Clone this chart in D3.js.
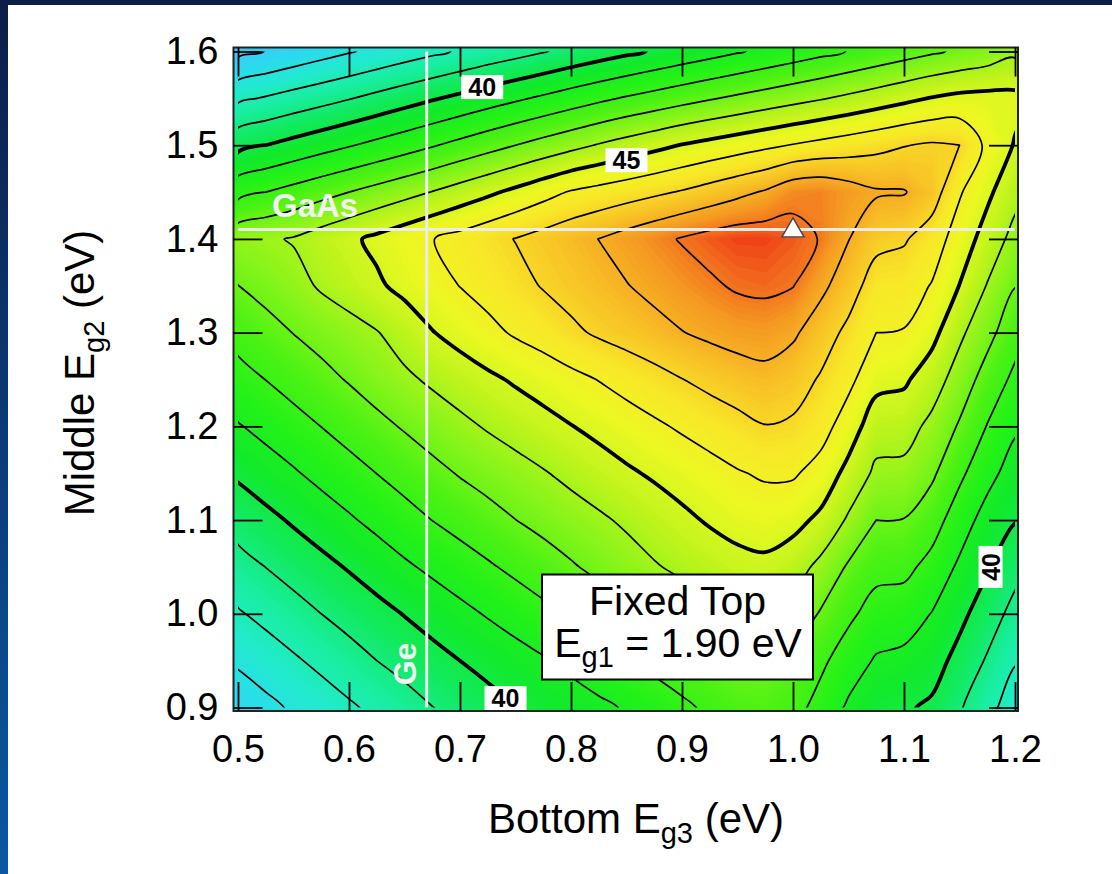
<!DOCTYPE html>
<html>
<head>
<meta charset="utf-8">
<script src="https://cdn.jsdelivr.net/npm/d3@7"></script>
<style>
  html, body { margin: 0; padding: 0; background: #fff; }
  svg { display: block; }
  text { font-family: "Liberation Sans", Arial, Helvetica, sans-serif; }
</style>
</head>
<body>
<svg id="chart" width="1112" height="874"></svg>
<script>
// ---- Sample positions of the efficiency map ----
// bottom-cell band gap Eg3 (columns) and middle-cell band gap Eg2 (rows), eV
const eg3Grid = [0.500, 0.525, 0.550, 0.575, 0.600, 0.625, 0.650, 0.675, 0.700, 0.725,
                 0.750, 0.775, 0.800, 0.825, 0.850, 0.875, 0.900, 0.925, 0.950, 0.975,
                 1.000, 1.025, 1.050, 1.075, 1.100, 1.125, 1.150, 1.175, 1.200];
const eg2Grid = [0.90, 0.95, 1.00, 1.05, 1.10, 1.15, 1.20, 1.25, 1.30, 1.35, 1.40, 1.45, 1.50, 1.55, 1.60];

// ---- Triple-junction efficiency (%) for a 1.90 eV top cell, one row per Eg2 ----
const eff090 = [36.40, 36.75, 37.13, 37.49, 37.86, 38.23, 38.60, 38.98, 39.32, 39.66, 40.00, 40.27, 40.53, 40.80, 41.09, 41.45, 41.81, 42.18, 42.50, 42.58, 42.35, 41.65, 40.85, 40.22, 40.12, 39.85, 39.10, 38.30, 37.50];
const eff095 = [37.14, 37.51, 37.87, 38.24, 38.62, 39.00, 39.33, 39.67, 40.00, 40.30, 40.61, 40.91, 41.25, 41.61, 41.96, 42.28, 42.59, 42.85, 43.08, 43.12, 42.70, 42.20, 41.50, 40.90, 40.75, 40.42, 39.68, 38.90, 38.07];
const eff100 = [37.90, 38.26, 38.63, 39.00, 39.35, 39.69, 40.04, 40.39, 40.74, 41.08, 41.41, 41.75, 42.08, 42.41, 42.75, 43.08, 43.41, 43.74, 44.06, 44.18, 43.69, 42.91, 42.20, 41.60, 41.50, 40.97, 40.26, 39.48, 38.69];
const eff105 = [38.64, 39.01, 39.37, 39.72, 40.08, 40.46, 40.85, 41.20, 41.54, 41.88, 42.22, 42.56, 42.90, 43.24, 43.59, 43.92, 44.20, 44.45, 44.68, 44.78, 44.45, 43.74, 42.88, 42.30, 42.25, 41.70, 40.83, 40.10, 39.31];
const eff110 = [39.39, 39.74, 40.12, 40.50, 40.88, 41.26, 41.64, 42.01, 42.34, 42.66, 42.99, 43.28, 43.57, 43.85, 44.15, 44.47, 44.80, 45.10, 45.35, 45.48, 45.30, 44.79, 43.86, 43.00, 42.97, 42.42, 41.50, 40.60, 40.05];
const eff115 = [40.15, 40.54, 40.90, 41.28, 41.64, 42.01, 42.37, 42.73, 43.07, 43.36, 43.64, 43.93, 44.24, 44.55, 44.86, 45.13, 45.39, 45.65, 45.93, 46.12, 46.12, 45.62, 44.71, 43.80, 43.75, 43.17, 42.20, 41.33, 40.54];
const eff120 = [40.93, 41.29, 41.65, 42.01, 42.38, 42.74, 43.09, 43.43, 43.77, 44.09, 44.38, 44.67, 44.97, 45.26, 45.55, 45.84, 46.13, 46.42, 46.70, 46.97, 46.85, 46.40, 45.50, 44.45, 44.40, 43.76, 42.90, 41.96, 41.15];
const eff125 = [41.65, 42.01, 42.37, 42.72, 43.07, 43.44, 43.81, 44.16, 44.48, 44.81, 45.12, 45.42, 45.73, 46.03, 46.35, 46.66, 46.98, 47.27, 47.52, 47.70, 47.45, 46.90, 46.25, 45.30, 45.15, 44.48, 43.55, 42.60, 41.78];
const eff130 = [42.34, 42.68, 43.02, 43.33, 43.64, 43.95, 44.44, 44.96, 45.35, 45.73, 46.12, 46.43, 46.80, 47.14, 47.40, 47.67, 47.97, 48.20, 48.38, 48.45, 48.15, 47.49, 46.76, 46.00, 45.95, 45.30, 44.20, 43.30, 42.38];
const eff135 = [42.99, 43.30, 43.65, 44.12, 44.45, 44.86, 45.25, 45.63, 46.02, 46.36, 46.70, 47.06, 47.37, 47.68, 47.96, 48.27, 48.56, 48.85, 49.12, 49.20, 49.03, 48.23, 47.47, 46.50, 46.45, 45.95, 44.98, 43.95, 43.03];
const eff140 = [43.68, 43.86, 44.07, 44.45, 44.82, 45.20, 45.58, 45.97, 46.32, 46.68, 47.03, 47.36, 47.68, 48.01, 48.37, 48.72, 49.07, 49.35, 49.55, 49.55, 49.35, 48.95, 48.03, 47.30, 47.10, 46.50, 45.55, 44.60, 43.68];
const eff145 = [41.68, 42.00, 42.33, 42.67, 43.00, 43.34, 43.68, 44.03, 44.42, 44.81, 45.22, 45.65, 46.08, 46.33, 46.57, 46.82, 47.08, 47.40, 47.75, 48.10, 48.70, 48.80, 48.45, 48.10, 48.06, 47.50, 46.10, 45.20, 44.30];
const eff150 = [39.71, 40.00, 40.31, 40.62, 40.93, 41.25, 41.58, 41.92, 42.28, 42.64, 43.00, 43.36, 43.71, 44.07, 44.40, 44.72, 45.04, 45.30, 45.55, 45.80, 46.05, 46.28, 46.50, 46.73, 46.96, 47.12, 47.00, 45.77, 44.93];
const eff155 = [37.81, 38.09, 38.38, 38.66, 38.95, 39.27, 39.59, 39.91, 40.22, 40.54, 40.85, 41.16, 41.48, 41.80, 42.10, 42.37, 42.65, 42.92, 43.18, 43.43, 43.68, 43.93, 44.20, 44.48, 44.77, 45.05, 45.25, 45.30, 45.25];
const eff160 = [35.74, 36.02, 36.33, 36.63, 36.93, 37.22, 37.52, 37.81, 38.10, 38.39, 38.66, 38.95, 39.25, 39.53, 39.81, 40.09, 40.37, 40.64, 40.92, 41.20, 41.47, 41.75, 42.03, 42.31, 42.59, 42.87, 43.14, 43.42, 43.80];
const effRows = [eff090, eff095, eff100, eff105, eff110, eff115, eff120, eff125, eff130, eff135, eff140, eff145, eff150, eff155, eff160];

// ---- Iso-efficiency lines ----
const contourLevels = [36, 37, 38, 39, 40, 41, 42, 43, 44, 45, 46, 47, 48, 49];
const boldLevels = [40, 45];

// ---- Axis ticks ----
const xTicks = [0.5, 0.6, 0.7, 0.8, 0.9, 1.0, 1.1, 1.2];
const yTicks = [0.9, 1.0, 1.1, 1.2, 1.3, 1.4, 1.5, 1.6];

// ---- Reference materials and optimum ----
const gaasEg = 1.41;      // middle-cell reference (GaAs)
const geEg = 0.67;        // bottom-cell reference (Ge)
const optimum = { eg3: 1.00, eg2: 1.41 };
const topEg = "1.90";

// ---- Inline contour labels ----
const contourLabels = [
  { level: 40, eg3: 0.720, eg2: 1.562, angle: 0 },
  { level: 45, eg3: 0.850, eg2: 1.484, angle: 0 },
  { level: 40, eg3: 0.741, eg2: 0.910, angle: 0 },
  { level: 40, eg3: 1.178, eg2: 1.050, angle: -90 }
];

// ---- Colour ramp (efficiency -> colour) ----
const rampValues = [35.5, 36.5, 37.5, 38.5, 39.5, 40.5, 41.5, 42.5, 43.5, 44.5, 45.5, 46.5, 47.5, 48.5, 49.2, 49.6];
const rampColors = ["#44c2f2", "#2cdaf0", "#22eacf", "#18ee9e", "#12ea5e", "#12ea2a", "#24f218", "#4cf214",
                    "#88f41a", "#c0f41c", "#ecf822", "#f8e828", "#f8c426", "#f59a22", "#f26a1e", "#f03c16"];

const W = 1112, H = 874;
const svg = d3.select("#chart");
const font = "'Liberation Sans', Arial, Helvetica, sans-serif";

// slide background strips
const defs = svg.append("defs");
const band = defs.append("linearGradient").attr("id", "sideBand")
  .attr("x1", 0).attr("y1", 0).attr("x2", 0).attr("y2", 1);
band.append("stop").attr("offset", "0%").attr("stop-color", "#0c1d48");
band.append("stop").attr("offset", "100%").attr("stop-color", "#0b58a2");
svg.append("rect").attr("width", W).attr("height", H).attr("fill", "#fff");
svg.append("rect").attr("x", 0).attr("y", 0).attr("width", 8).attr("height", H).attr("fill", "url(#sideBand)");
svg.append("rect").attr("x", 0).attr("y", 0).attr("width", W).attr("height", 5).attr("fill", "#0c1d48");

// scales
const x = d3.scaleLinear().domain([0.5, 1.2]).range([238, 1015]);
const y = d3.scaleLinear().domain([0.9, 1.6]).range([707.5, 51.5]);
const frame = { left: 233.5, right: 1018, top: 47.5, bottom: 711 };
const color = d3.scaleLinear().domain(rampValues).range(rampColors)
  .interpolate(d3.interpolateRgb).clamp(true);

defs.append("clipPath").attr("id", "frameClip").append("rect")
  .attr("x", frame.left).attr("y", frame.top)
  .attr("width", frame.right - frame.left).attr("height", frame.bottom - frame.top);
defs.append("clipPath").attr("id", "dataClip").append("rect")
  .attr("x", x(0.5)).attr("y", y(1.6))
  .attr("width", x(1.2) - x(0.5)).attr("height", y(0.9) - y(1.6));

// grid values, top row first, as d3.contours expects
const nx = eg3Grid.length, ny = eg2Grid.length;
const values = [];
for (let j = ny - 1; j >= 0; j--) values.push(...effRows[j]);
const stepX = (eg3Grid[nx - 1] - eg3Grid[0]) / (nx - 1);
const stepY = (eg2Grid[ny - 1] - eg2Grid[0]) / (ny - 1);
const gx = cx => x(eg3Grid[0] + (cx - 0.5) * stepX);
const gy = cy => y(eg2Grid[ny - 1] - (cy - 0.5) * stepY);
const gridProjection = d3.geoTransform({
  point(cx, cy) { this.stream.point(gx(cx), gy(cy)); }
});
const gridPath = d3.geoPath(gridProjection);

// continuous colour fill from finely spaced filled bands
const fineSteps = d3.range(35.0, 50.0, 0.1);
const bands = d3.contours().size([nx, ny]).thresholds(fineSteps)(values);
svg.append("g").attr("clip-path", "url(#frameClip)")
  .selectAll("path").data(bands).join("path")
  .attr("d", gridPath)
  .attr("fill", d => color(d.value + 0.05))
  .attr("stroke", d => color(d.value + 0.05))
  .attr("stroke-width", 0.6);

// iso-efficiency lines, drawn as smooth closed curves through the contour vertices
const isoLines = d3.contours().size([nx, ny]).thresholds(contourLevels)(values);
const smoothRing = d3.line().curve(d3.curveCatmullRomClosed.alpha(0.5));
function ringsPath(mp) {
  let d = "";
  mp.coordinates.forEach(poly => poly.forEach(ring => {
    const pts = ring.slice(0, -1).map(([cx, cy]) => [gx(cx), gy(cy)]);
    if (pts.length > 2) d += smoothRing(pts);
  }));
  return d;
}
svg.append("g").attr("clip-path", "url(#dataClip)")
  .selectAll("path").data(isoLines).join("path")
  .attr("d", ringsPath)
  .attr("fill", "none")
  .attr("stroke", "#000")
  .attr("stroke-linejoin", "round")
  .attr("stroke-width", d => boldLevels.includes(d.value) ? 3.8 : 1.7);

// contour labels
const lab = svg.append("g").selectAll("g").data(contourLabels).join("g")
  .attr("transform", d => `translate(${x(d.eg3)},${y(d.eg2)}) rotate(${d.angle})`);
lab.append("rect").attr("x", -21).attr("y", -12).attr("width", 42).attr("height", 24).attr("fill", "#fff");
lab.append("text").attr("text-anchor", "middle").attr("dy", "0.36em")
  .attr("font-size", 25).attr("font-weight", "bold").attr("fill", "#000")
  .text(d => d.level);

// GaAs and Ge reference lines
svg.append("line").attr("x1", x(0.5)).attr("x2", x(1.2)).attr("y1", y(gaasEg)).attr("y2", y(gaasEg))
  .attr("stroke", "#ececec").attr("stroke-width", 3);
svg.append("line").attr("x1", x(geEg)).attr("x2", x(geEg)).attr("y1", y(1.6)).attr("y2", y(0.9))
  .attr("stroke", "#ececec").attr("stroke-width", 3);
svg.append("text").attr("x", 272).attr("y", y(gaasEg) - 13)
  .attr("font-size", 33).attr("font-weight", "bold").attr("fill", "#f2f2f2").text("GaAs");
svg.append("text").attr("transform", `translate(${x(geEg) - 11},${664}) rotate(-90)`)
  .attr("text-anchor", "middle").attr("font-size", 32).attr("font-weight", "bold")
  .attr("fill", "#f2f2f2").text("Ge");

// optimum marker
svg.append("path").attr("d", d3.symbol(d3.symbolTriangle, 210)())
  .attr("transform", `translate(${x(optimum.eg3)},${y(optimum.eg2) + 1})`)
  .attr("fill", "#fff").attr("stroke", "#444").attr("stroke-width", 1.4);

// annotation box
const box = svg.append("g");
box.append("rect").attr("x", 542).attr("y", 574.5).attr("width", 271).attr("height", 105)
  .attr("fill", "#fff").attr("stroke", "#000").attr("stroke-width", 2);
box.append("text").attr("x", 677.5).attr("y", 615).attr("text-anchor", "middle")
  .attr("font-size", 41).text("Fixed Top");
const l2 = box.append("text").attr("x", 678).attr("y", 657).attr("text-anchor", "middle").attr("font-size", 41);
l2.append("tspan").text("E");
l2.append("tspan").attr("font-size", 29).attr("dy", 10).text("g1");
l2.append("tspan").attr("dy", -10).text(` = ${topEg} eV`);

// frame
svg.append("rect").attr("x", frame.left).attr("y", frame.top)
  .attr("width", frame.right - frame.left).attr("height", frame.bottom - frame.top)
  .attr("fill", "none").attr("stroke", "#222").attr("stroke-width", 2);

// axes with inward ticks on all four sides
const tickLen = 29;
function styleAxis(g) {
  g.select(".domain").remove();
  g.selectAll(".tick line").attr("stroke", "#000").attr("stroke-width", 1.8);
  g.selectAll(".tick text").attr("font-size", 38).attr("font-family", font).attr("fill", "#000");
}
svg.append("g").attr("transform", `translate(0,${frame.bottom})`)
  .call(d3.axisBottom(x).tickValues(xTicks).tickFormat(d3.format(".1f"))
    .tickSizeInner(-tickLen).tickSizeOuter(0).tickPadding(24)).call(styleAxis);
svg.append("g").attr("transform", `translate(0,${frame.top})`)
  .call(d3.axisTop(x).tickValues(xTicks).tickFormat("")
    .tickSizeInner(-tickLen).tickSizeOuter(0)).call(styleAxis);
svg.append("g").attr("transform", `translate(${frame.left},0)`)
  .call(d3.axisLeft(y).tickValues(yTicks).tickFormat(d3.format(".1f"))
    .tickSizeInner(-tickLen).tickSizeOuter(0).tickPadding(15)).call(styleAxis);
svg.append("g").attr("transform", `translate(${frame.right},0)`)
  .call(d3.axisRight(y).tickValues(yTicks).tickFormat("")
    .tickSizeInner(-tickLen).tickSizeOuter(0)).call(styleAxis);

// axis titles
const xt = svg.append("text").attr("x", 636).attr("y", 833).attr("text-anchor", "middle").attr("font-size", 42);
xt.append("tspan").text("Bottom E");
xt.append("tspan").attr("font-size", 29).attr("dy", 10).text("g3");
xt.append("tspan").attr("dy", -10).text(" (eV)");

const yt = svg.append("text").attr("transform", "translate(94,373) rotate(-90)")
  .attr("text-anchor", "middle").attr("font-size", 42);
yt.append("tspan").text("Middle E");
yt.append("tspan").attr("font-size", 29).attr("dy", 10).text("g2");
yt.append("tspan").attr("dy", -10).text(" (eV)");
</script>
</body>
</html>
